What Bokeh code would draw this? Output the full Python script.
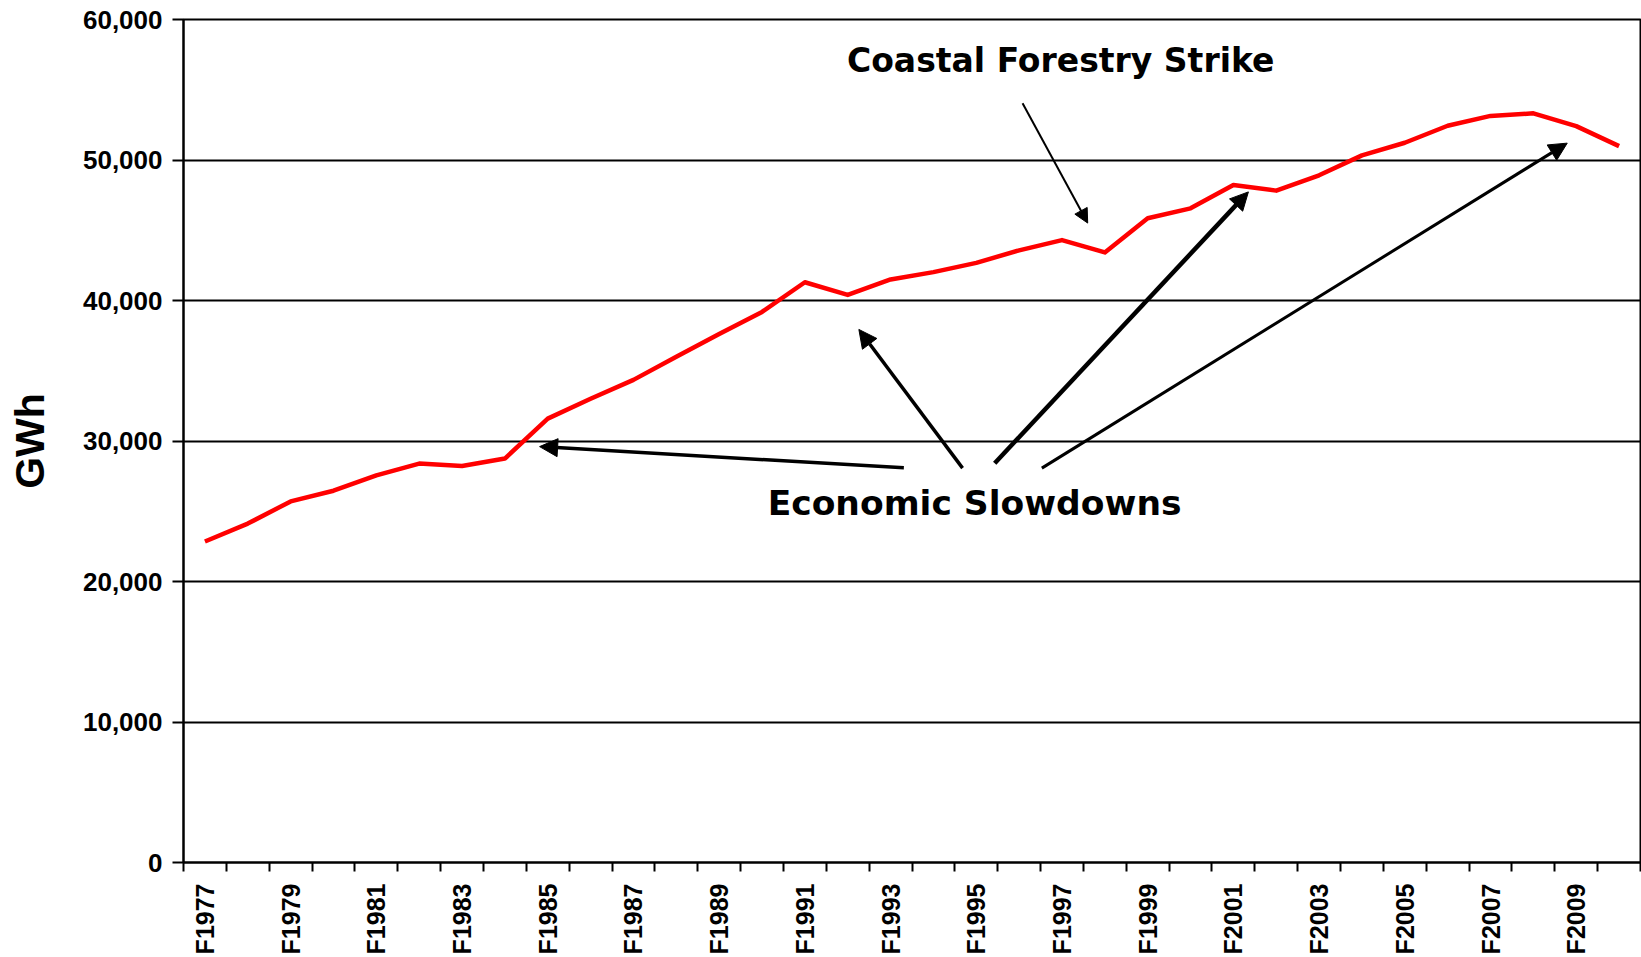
from bokeh.plotting import figure
from bokeh.models import (Range1d, FixedTicker, CustomJSTickFormatter,
                          NumeralTickFormatter, Arrow, NormalHead)
from bokeh.core.properties import value
from bokeh.embed import file_html
from bokeh.resources import INLINE

# ---- data -------------------------------------------------------------
years = ["F1977", "F1978", "F1979", "F1980", "F1981", "F1982", "F1983",
         "F1984", "F1985", "F1986", "F1987", "F1988", "F1989", "F1990",
         "F1991", "F1992", "F1993", "F1994", "F1995", "F1996", "F1997",
         "F1998", "F1999", "F2000", "F2001", "F2002", "F2003", "F2004",
         "F2005", "F2006", "F2007", "F2008", "F2009", "F2010"]
gwh = [22850, 24120, 25700, 26460, 27550, 28390, 28220, 28750, 31590,
       33010, 34350, 35990, 37620, 39190, 41300, 40400, 41500, 42020,
       42680, 43570, 44300, 43420, 45850, 46560, 48220, 47820, 48910,
       50330, 51230, 52440, 53140, 53320, 52410, 50990]
y_ticks = [0, 10000, 20000, 30000, 40000, 50000, 60000]

# annotations (x in category-position units, y in GWh)
note_texts = ["Coastal Forestry Strike", "Economic Slowdowns"]
note_x = [20.47, 18.46]
note_y = [57100, 25610]
note_sizes = ["33px", "34.5px"]

arrow_x0 = [19.58, 16.81, 18.18, 18.93, 20.03]
arrow_y0 = [54040, 28090, 28070, 28420, 28070]
arrow_x1 = [21.10, 8.31, 15.76, 24.85, 32.29]
arrow_y1 = [45510, 29600, 37940, 47730, 51200]
arrow_w = [2, 3.5, 3.5, 4.5, 3]

# ---- figure -----------------------------------------------------------
n = len(years)
xpos = [i + 0.5 for i in range(n)]

p = figure(width=1641, height=957, output_backend="svg", toolbar_location=None,
           x_range=Range1d(0, n), y_range=Range1d(0, 60000),
           min_border_left=183, min_border_right=1, min_border_top=19,
           min_border_bottom=94)
p.background_fill_color = "white"
p.border_fill_color = "white"
p.outline_line_color = "black"
p.outline_line_width = 2

p.line(xpos, gwh, line_color="#ff0000", line_width=4.5, line_join="round")

# x axis: ticks between categories, labels on every other category
xa = p.xaxis[0]
xa.ticker = FixedTicker(ticks=[xpos[i] for i in range(0, n, 2)],
                        minor_ticks=list(range(0, n + 1)))
xa.formatter = CustomJSTickFormatter(args=dict(labels=years),
                                     code="return labels[Math.floor(tick)];")
xa.major_label_orientation = 1.5707963
xa.major_tick_out = 0
xa.major_tick_in = 0
xa.minor_tick_out = 9
xa.minor_tick_in = 0
xa.minor_tick_line_color = "black"
xa.minor_tick_line_width = 2
xa.major_label_standoff = 12
xa.axis_line_color = "black"
xa.axis_line_width = 2
xa.major_label_text_font = "Liberation Sans"
xa.major_label_text_font_style = "bold"
xa.major_label_text_font_size = "25px"
xa.major_label_text_color = "black"

ya = p.yaxis[0]
ya.ticker = FixedTicker(ticks=y_ticks)
ya.formatter = NumeralTickFormatter(format="0,0")
ya.major_tick_out = 11
ya.major_tick_in = 0
ya.minor_tick_line_color = None
ya.major_tick_line_color = "black"
ya.major_tick_line_width = 2
ya.axis_line_color = "black"
ya.axis_line_width = 2
ya.major_label_standoff = 10
ya.major_label_text_font = "Liberation Sans"
ya.major_label_text_font_style = "bold"
ya.major_label_text_font_size = "26px"
ya.major_label_text_color = "black"
ya.axis_label = "GWh"
ya.axis_label_text_font = "Liberation Sans"
ya.axis_label_text_font_style = "bold"
ya.axis_label_text_font_size = "41px"
ya.axis_label_text_color = "black"
ya.axis_label_standoff = 27

p.xgrid.grid_line_color = None
p.ygrid.grid_line_color = "black"
p.ygrid.grid_line_width = 2
p.ygrid.grid_line_alpha = 1.0

# annotations
for i in range(len(note_texts)):
    p.text(x=[note_x[i]], y=[note_y[i]], text=[note_texts[i]],
           text_align="center", text_baseline="alphabetic",
           text_font=value("DejaVu Sans"), text_font_style="bold",
           text_font_size=note_sizes[i], text_color="black")

for i in range(len(arrow_x0)):
    size = 14 if arrow_w[i] < 3 else 18
    p.add_layout(Arrow(end=NormalHead(size=size, fill_color="black",
                                      line_color="black", line_width=1),
                       x_start=arrow_x0[i], y_start=arrow_y0[i],
                       x_end=arrow_x1[i], y_end=arrow_y1[i],
                       line_color="black", line_width=arrow_w[i]))

open("out.html", "w").write(file_html(p, INLINE))
